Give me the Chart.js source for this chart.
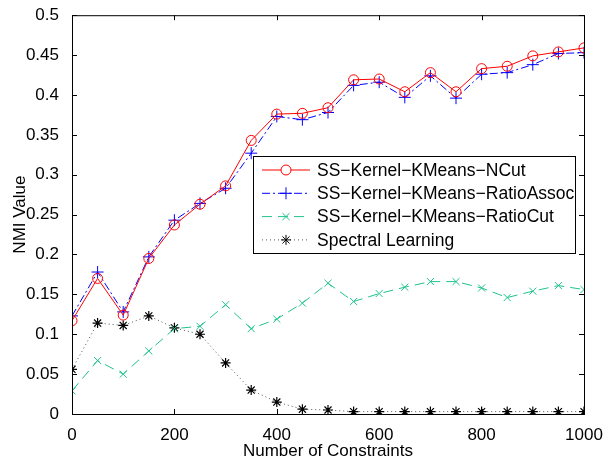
<!DOCTYPE html>
<html>
<head>
<meta charset="utf-8">
<script src="https://cdn.jsdelivr.net/npm/chart.js@4.4.0/dist/chart.umd.min.js"></script>
<style>
  html, body { margin: 0; padding: 0; background: #fff; }
  #wrap { width: 611px; height: 462px; }
</style>
</head>
<body>
<div id="wrap"><canvas id="nmiChart" width="611" height="462"></canvas></div>
<script>
// --- DATOS ---
const constraints = [0, 50, 100, 150, 200, 250, 300, 350, 400, 450, 500, 550, 600, 650, 700, 750, 800, 850, 900, 950, 1000];
const ncut = [0.117, 0.170, 0.124, 0.195, 0.237, 0.263, 0.286, 0.343, 0.376, 0.377, 0.384, 0.419, 0.420, 0.404, 0.428, 0.404, 0.433, 0.436, 0.449, 0.454, 0.459];
const ratioAssoc = [0.123, 0.178, 0.128, 0.197, 0.243, 0.264, 0.283, 0.327, 0.373, 0.369, 0.378, 0.412, 0.416, 0.397, 0.424, 0.396, 0.426, 0.428, 0.438, 0.452, 0.453];
const ratioCut = [0.029, 0.067, 0.050, 0.079, 0.107, 0.110, 0.137, 0.107, 0.119, 0.139, 0.164, 0.141, 0.151, 0.159, 0.166, 0.166, 0.158, 0.146, 0.154, 0.161, 0.156];
const spectral = [0.056, 0.114, 0.111, 0.123, 0.108, 0.100, 0.064, 0.030, 0.015, 0.006, 0.005, 0.003, 0.003, 0.003, 0.003, 0.003, 0.003, 0.003, 0.003, 0.003, 0.003];
const seriesNames = ['SS\u2212Kernel\u2212KMeans\u2212NCut', 'SS\u2212Kernel\u2212KMeans\u2212RatioAssoc', 'SS\u2212Kernel\u2212KMeans\u2212RatioCut', 'Spectral Learning'];
const xTicks = ['0', '200', '400', '600', '800', '1000'];
const yTicks = ['0', '0.05', '0.1', '0.15', '0.2', '0.25', '0.3', '0.35', '0.4', '0.45', '0.5'];

const FONT = '"Liberation Sans", Arial, Helvetica, sans-serif';
const FSIZE = 17;

const toPts = (arr) => arr.map((v, i) => ({ x: constraints[i], y: v }));

// --- PLUGIN: caja y marcas hacia dentro (estilo MATLAB) ---
const boxPlugin = {
  id: 'boxPlugin',
  afterDatasetsDraw(chart) {
    const { ctx, chartArea: a, scales } = chart;
    ctx.save();
    ctx.strokeStyle = '#000';
    ctx.lineWidth = 1;
    ctx.setLineDash([]);
    ctx.strokeRect(a.left + 0.5, a.top + 0.5, a.right - a.left, a.bottom - a.top);
    const len = 5;
    ctx.beginPath();
    xTicks.forEach(t => {
      const px = Math.round(scales.x.getPixelForValue(parseFloat(t))) + 0.5;
      ctx.moveTo(px, a.bottom); ctx.lineTo(px, a.bottom - len);
      ctx.moveTo(px, a.top); ctx.lineTo(px, a.top + len);
    });
    yTicks.forEach(t => {
      const py = Math.round(scales.y.getPixelForValue(parseFloat(t))) + 0.5;
      ctx.moveTo(a.left, py); ctx.lineTo(a.left + len, py);
      ctx.moveTo(a.right, py); ctx.lineTo(a.right - len, py);
    });
    ctx.stroke();
    ctx.restore();
  },
  afterDraw(chart) {
    // --- LEYENDA DENTRO DEL GRÁFICO ---
    const { ctx } = chart;
    const bx = 253, by = 156, bw = 322, bh = 97;
    ctx.save();
    ctx.fillStyle = '#fff';
    ctx.fillRect(bx, by, bw, bh);
    ctx.strokeStyle = '#000';
    ctx.lineWidth = 1;
    ctx.setLineDash([]);
    ctx.strokeRect(bx + 0.5, by + 0.5, bw, bh);
    ctx.font = '17.5px ' + FONT;
    ctx.textBaseline = 'middle';
    chart.data.datasets.forEach((ds, i) => {
      const cy = by + 14 + i * 23.3;
      ctx.strokeStyle = ds.borderColor;
      ctx.lineWidth = 1;
      ctx.setLineDash(ds.borderDash || []);
      ctx.beginPath();
      ctx.moveTo(262, cy); ctx.lineTo(310, cy);
      ctx.stroke();
      ctx.setLineDash([]);
      ctx.strokeStyle = ds.pointBorderColor;
      Chart.helpers.drawPoint(ctx, {
        pointStyle: ds.pointStyle, radius: ds.pointRadius, borderWidth: 1
      }, 286, cy);
      ctx.fillStyle = '#000';
      ctx.fillText(ds.label, 317, cy + 1);
    });
    ctx.restore();
  }
};

const ctx = document.getElementById('nmiChart').getContext('2d');
new Chart(ctx, {
  type: 'line',
  data: {
    datasets: [
      { label: seriesNames[0], data: toPts(ncut), borderColor: '#ff0000', backgroundColor: 'rgba(0,0,0,0)',
        pointStyle: 'circle', pointRadius: 5, pointBorderColor: '#ff0000', borderWidth: 1, pointBorderWidth: 1 },
      { label: seriesNames[1], data: toPts(ratioAssoc), borderColor: '#0000ff', backgroundColor: 'rgba(0,0,0,0)',
        borderDash: [8, 3, 2, 3], pointStyle: 'cross', pointRadius: 6, pointBorderColor: '#0000ff', borderWidth: 1, pointBorderWidth: 1 },
      { label: seriesNames[2], data: toPts(ratioCut), borderColor: '#1fc48a', backgroundColor: 'rgba(0,0,0,0)',
        borderDash: [10, 6], pointStyle: 'crossRot', pointRadius: 5, pointBorderColor: '#1fc48a', borderWidth: 1, pointBorderWidth: 1 },
      { label: seriesNames[3], data: toPts(spectral), borderColor: '#555555', backgroundColor: 'rgba(0,0,0,0)',
        borderDash: [1, 3], pointStyle: 'star', pointRadius: 5, pointBorderColor: '#000', borderWidth: 1, pointBorderWidth: 1.2 }
    ]
  },
  options: {
    responsive: false,
    animation: false,
    layout: { padding: { top: 11, right: 27, left: 0, bottom: 0 } },
    plugins: { legend: { display: false }, tooltip: { enabled: false } },
    elements: { line: { tension: 0 } },
    scales: {
      x: {
        type: 'linear', min: 0, max: 1000,
        afterBuildTicks: (s) => { s.ticks = xTicks.map(v => ({ value: parseFloat(v) })); },
        afterFit: (s) => { s.height = 48; },
        grid: { display: false }, border: { display: false },
        ticks: { color: '#000', font: { family: FONT, size: FSIZE }, padding: 3, maxRotation: 0,
                 callback: (v, i) => xTicks[i] },
        title: { display: true, text: 'Number of Constraints', color: '#000', font: { family: FONT, size: FSIZE }, padding: { top: 0, bottom: 0 } }
      },
      y: {
        type: 'linear', min: 0, max: 0.5,
        afterBuildTicks: (s) => { s.ticks = yTicks.map(v => ({ value: parseFloat(v) })); },
        afterFit: (s) => { s.width = 72; },
        grid: { display: false }, border: { display: false },
        ticks: { color: '#000', font: { family: FONT, size: FSIZE }, padding: 5,
                 callback: (v, i) => yTicks[i] },
        title: { display: true, text: 'NMI Value', color: '#000', font: { family: FONT, size: FSIZE }, padding: { top: 10, bottom: 0 } }
      }
    }
  },
  plugins: [boxPlugin]
});
</script>
</body>
</html>
